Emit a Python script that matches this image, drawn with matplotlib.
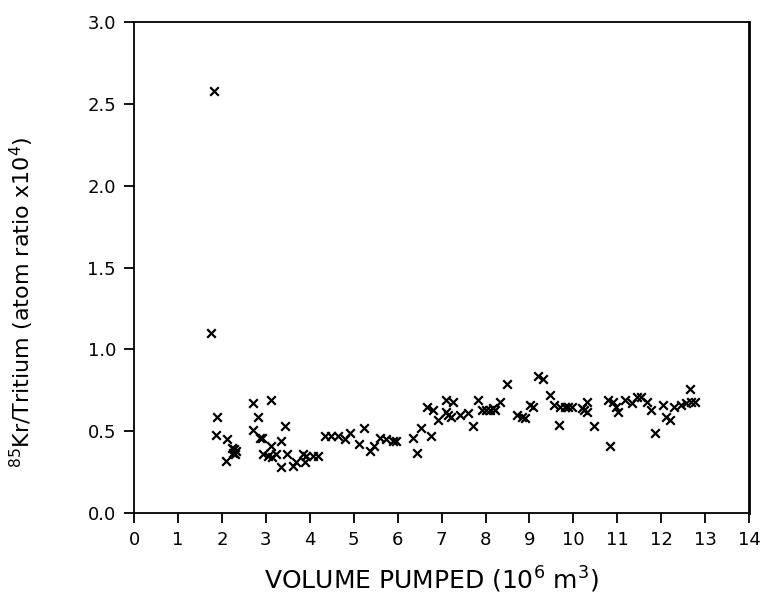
import numpy as np
import matplotlib.pyplot as plt

# volume pumped (10^6 m^3) and 85Kr/tritium ratio (x10^4)
vol = [1.81, 1.74, 1.88, 1.87, 2.12, 2.10, 2.22, 2.25, 2.28, 2.30, 2.33,
       2.71, 2.71, 2.82, 2.86, 2.92, 2.93, 3.05, 3.12, 3.12, 3.15, 3.24,
       3.35, 3.35, 3.44, 3.47, 3.62, 3.69, 3.85, 3.88, 3.92, 4.07, 4.19,
       4.34, 4.49, 4.64, 4.79, 4.92, 5.12, 5.23, 5.36, 5.46, 5.59, 5.74,
       5.90, 5.97, 6.35, 6.43, 6.54, 6.66, 6.77, 6.81, 6.92, 7.11, 7.11,
       7.15, 7.22, 7.26, 7.41, 7.60, 7.72, 7.83, 7.91, 8.02, 8.10, 8.17,
       8.21, 8.34, 8.49, 8.72, 8.82, 8.90, 9.01, 9.08, 9.20, 9.31, 9.46,
       9.56, 9.67, 9.69, 9.80, 9.88, 9.96, 10.19, 10.24, 10.31, 10.31,
       10.47, 10.79, 10.83, 10.90, 10.96, 11.02, 11.17, 11.33, 11.44,
       11.55, 11.67, 11.76, 11.86, 12.05, 12.12, 12.20, 12.29, 12.46,
       12.57, 12.65, 12.67, 12.77]
ratio = [2.58, 1.10, 0.59, 0.48, 0.45, 0.32, 0.40, 0.37, 0.39, 0.36, 0.38,
         0.67, 0.51, 0.59, 0.46, 0.46, 0.36, 0.35, 0.69, 0.41, 0.34, 0.36,
         0.44, 0.28, 0.53, 0.36, 0.29, 0.31, 0.36, 0.31, 0.35, 0.35, 0.35,
         0.47, 0.47, 0.47, 0.45, 0.49, 0.42, 0.52, 0.38, 0.41, 0.46, 0.45,
         0.44, 0.44, 0.46, 0.37, 0.52, 0.65, 0.47, 0.63, 0.57, 0.69, 0.62,
         0.60, 0.59, 0.68, 0.60, 0.61, 0.53, 0.69, 0.63, 0.63, 0.63, 0.64,
         0.63, 0.68, 0.79, 0.60, 0.59, 0.58, 0.66, 0.65, 0.84, 0.82, 0.72,
         0.66, 0.54, 0.65, 0.65, 0.65, 0.65, 0.64, 0.63, 0.68, 0.62,
         0.53, 0.69, 0.41, 0.68, 0.65, 0.62, 0.69, 0.67, 0.71,
         0.71, 0.68, 0.63, 0.49, 0.66, 0.59, 0.57, 0.65, 0.66,
         0.67, 0.76, 0.68, 0.68]

xticks = np.arange(0, 15, 1)
yticks = np.arange(0, 3.01, 0.5)

fig = plt.figure(figsize=(7.62, 6.13), dpi=100)
ax = fig.add_axes([0.176, 0.163, 0.807, 0.801])

ax.scatter(vol, ratio, marker='x', s=38, c='black', linewidths=1.6)

ax.set_xlim(0, 14)
ax.set_ylim(0, 3.0)
ax.set_xticks(xticks)
ax.set_xticklabels([str(t) for t in xticks])
ax.set_yticks(yticks)
ax.set_yticklabels(["%.1f" % t for t in yticks])
ax.tick_params(direction='out', length=7, width=1.3, labelsize=13, pad=6)

for s in ax.spines.values():
    s.set_linewidth(1.3)
ax.spines['right'].set_linewidth(2)

ax.set_xlabel(r"VOLUME PUMPED (10$^6$ m$^3$)", fontsize=18)
ax.xaxis.set_label_coords(0.483, -0.105)
ax.set_ylabel(r"$^{85}$Kr/Tritium (atom ratio x10$^4$)", fontsize=16)
ax.yaxis.set_label_coords(-0.16, 0.43)

plt.savefig("out.png", dpi=100)
